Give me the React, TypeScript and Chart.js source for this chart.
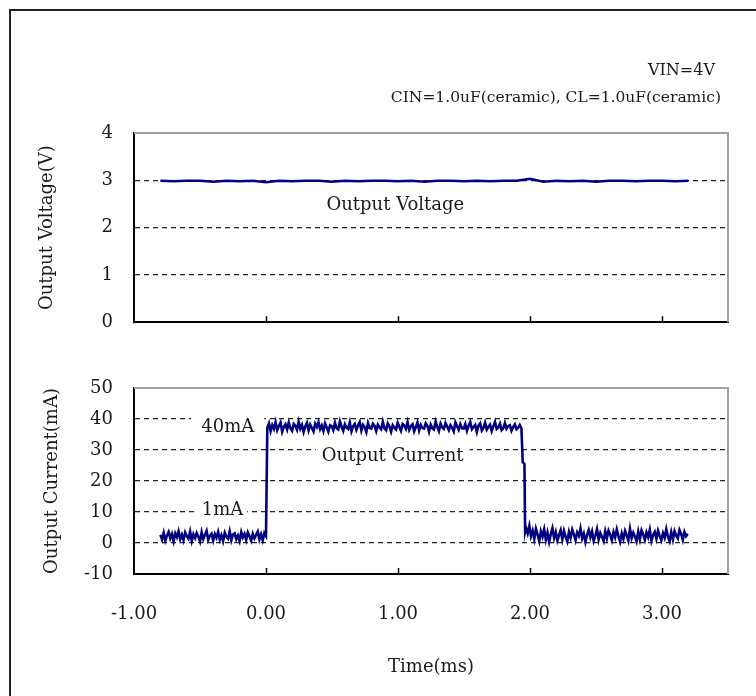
import React, { useEffect, useRef } from "react";
import { Chart, registerables } from "chart.js";
Chart.register(...registerables);

// ---------- data ----------
const X_MIN = -1;
const X_MAX = 3.5;
const X_TICK_STEP = 1;
const V_MIN = 0;
const V_MAX = 4;
const I_MIN = -10;
const I_MAX = 50;

const VOLT_T0 = -0.8;
const VOLT_STEP = 0.1;
const VOLT = [
  2.99, 2.98, 2.99, 2.99, 2.97, 2.99, 2.98, 2.99, 2.96, 2.99,
  2.98, 2.99, 2.99, 2.97, 2.99, 2.98, 2.99, 2.99, 2.98, 2.99,
  2.97, 2.99, 2.99, 2.98, 2.99, 2.98, 2.99, 2.99, 3.03, 2.97,
  2.99, 2.98, 2.99, 2.97, 2.99, 2.99, 2.98, 2.99, 2.99, 2.98,
  2.99,
];

const CUR_STEP = 0.0125;
const CUR_LOW1_T0 = -0.8;
const CUR_LOW1 = [
  2.6, 1.1, 3.3, 0.8, 2.4, 3.6, 1.5, 2.9, 0.6, 3.1,
  1.9, 3.8, 1.2, 2.7, 0.9, 3.4, 2.2, 1.4, 3.7, 0.7,
  2.8, 1.6, 3.2, 2.0, 0.5, 3.5, 1.3, 2.6, 3.9, 1.0,
  2.3, 3.0, 0.8, 2.9, 1.7, 3.6, 1.1, 2.5, 0.6, 3.3,
  2.0, 1.4, 3.8, 0.9, 2.7, 3.1, 1.2, 2.4, 0.7, 3.5,
  1.8, 2.9, 1.0, 3.4, 2.2, 0.8, 3.0, 1.5, 2.6, 3.7,
  1.1, 2.8, 0.9, 3.2, 2.3,
];
const CUR_HIGH_T0 = 0.01;
const CUR_HIGH = [
  37.2, 38.6, 36.1, 38.0, 36.8, 39.0, 36.4, 37.7, 38.8, 35.9,
  37.5, 38.3, 36.6, 38.9, 37.0, 36.2, 38.4, 37.8, 36.5, 39.1,
  36.9, 38.1, 35.8, 37.6, 38.7, 36.3, 38.2, 37.1, 36.0, 38.5,
  37.4, 39.0, 36.7, 37.9, 36.1, 38.6, 37.3, 35.9, 38.0, 37.7,
  36.4, 38.8, 37.0, 36.6, 39.2, 37.5, 36.2, 38.3, 37.2, 36.8,
  38.9, 36.0, 37.6, 38.4, 36.5, 37.9, 39.0, 36.3, 38.1, 37.4,
  35.8, 38.7, 37.1, 36.9, 38.5, 37.8, 36.1, 38.2, 37.3, 36.7,
  39.1, 37.0, 36.4, 38.6, 37.6, 35.9, 38.0, 37.2, 36.6, 38.8,
  37.5, 36.2, 38.4, 37.9, 36.8, 39.0, 36.5, 37.7, 38.3, 36.0,
  37.4, 38.9, 36.3, 38.1, 37.1, 36.9, 38.6, 37.8, 35.9, 38.2,
  37.0, 36.6, 39.2, 37.5, 36.1, 38.5, 37.3, 36.8, 38.7, 37.6,
  36.4, 38.0, 37.2, 36.0, 38.9, 37.7, 36.5, 38.3, 37.0, 36.9,
  38.4, 36.2, 37.8, 39.0, 36.7, 37.4, 38.1, 35.8, 37.9, 38.6,
  36.3, 37.1, 38.8, 36.6, 37.5, 38.2, 36.1, 37.6, 39.1, 36.8,
  37.3, 38.5, 36.4, 37.0, 38.7, 36.9, 37.7, 38.0, 36.2, 37.4,
  38.3, 36.7, 37.2, 38.1, 37.0,
];
const CUR_FALL_T = [1.945, 1.952, 1.958, 1.963];
const CUR_FALL = [26.0, 25.8, 25.5, 3.6];
const CUR_LOW2_T0 = 1.97;
const CUR_LOW2 = [
  4.9, 3.1, 5.5, 2.2, 4.0, 1.3, 4.6, 2.7, 0.6, 3.8,
  2.1, 4.4, 1.0, 3.3, 0.4, 2.9, 4.8, 1.6, 3.5, 0.8,
  2.5, 4.1, 1.2, 3.9, 2.0, 0.5, 3.6, 1.7, 4.3, 2.8,
  0.9, 3.4, 2.3, 4.7, 1.4, 3.0, 0.3, 2.6, 4.2, 1.9,
  3.7, 0.7, 2.4, 4.5, 1.1, 3.2, 2.0, 0.6, 3.8, 1.5,
  4.0, 2.7, 0.9, 3.5, 1.8, 4.4, 2.2, 0.4, 3.1, 1.3,
  3.9, 2.5, 0.8, 4.6, 1.6, 3.3, 2.1, 0.5, 3.7, 1.2,
  4.1, 2.8, 1.0, 3.4, 1.9, 4.3, 0.7, 2.6, 3.6, 1.4,
  4.0, 2.3, 0.9, 3.2, 1.7, 4.5, 2.0, 0.6, 3.5, 1.1,
  3.8, 2.4, 1.5, 4.2, 2.9, 1.0, 3.6, 2.2, 3.0,
];

const NOTE_VIN = "VIN=4V";
const NOTE_CAP = "CIN=1.0uF(ceramic), CL=1.0uF(ceramic)";
const LABEL_VOLT = "Output Voltage";
const LABEL_CUR = "Output Current";
const LABEL_HIGH = "40mA";
const LABEL_LOW = "1mA";
const TITLE_V = "Output Voltage(V)";
const TITLE_I = "Output Current(mA)";
const TITLE_X = "Time(ms)";

// ---------- helpers ----------
const series = (t0: number, step: number, vals: number[]) =>
  vals.map((y, i) => ({ x: +(t0 + i * step).toFixed(4), y }));

const voltPts = series(VOLT_T0, VOLT_STEP, VOLT);
const curPts = [
  ...series(CUR_LOW1_T0, CUR_STEP, CUR_LOW1),
  ...series(CUR_HIGH_T0, CUR_STEP, CUR_HIGH),
  ...CUR_FALL_T.map((x, i) => ({ x, y: CUR_FALL[i] })),
  ...series(CUR_LOW2_T0, CUR_STEP, CUR_LOW2),
];

const FAMILY = '"DejaVu Serif", "Liberation Serif", serif';
const NAVY = "#000080";
const TEXT = "#1a1a1a";

function gridColor(min: number, max: number) {
  return (c: any) => {
    if (!c.tick) return "#222";
    const v = c.tick.value;
    return v === min || v === max ? "rgba(0,0,0,0)" : "#222";
  };
}

function frameAndTicks(chart: any) {
  const { ctx, chartArea: a } = chart;
  const xs = chart.scales.x;
  ctx.save();
  ctx.strokeStyle = "#000";
  ctx.lineWidth = 1.5;
  xs.ticks.forEach((t: any) => {
    if (t.value === X_MIN) return;
    const px = Math.round(xs.getPixelForValue(t.value)) + 0.5;
    ctx.beginPath();
    ctx.moveTo(px, a.bottom);
    ctx.lineTo(px, a.bottom - 6);
    ctx.stroke();
  });
  ctx.strokeStyle = "#a0a0a0";
  ctx.lineWidth = 2;
  ctx.beginPath();
  ctx.moveTo(a.left, a.top);
  ctx.lineTo(a.right, a.top);
  ctx.lineTo(a.right, a.bottom);
  ctx.stroke();
  ctx.restore();
}

function label(
  ctx: CanvasRenderingContext2D,
  text: string,
  x: number,
  y: number,
  size: number,
  align: CanvasTextAlign,
  bg?: { padX: number; padY: number }
) {
  ctx.save();
  ctx.font = `${size}px ${FAMILY}`;
  ctx.textAlign = align;
  ctx.textBaseline = "middle";
  if (bg) {
    const w = ctx.measureText(text).width;
    const left = align === "center" ? x - w / 2 : align === "right" ? x - w : x;
    ctx.fillStyle = "#fff";
    ctx.fillRect(left - bg.padX, y - size / 2 - bg.padY, w + bg.padX * 2, size + bg.padY * 2);
  }
  ctx.fillStyle = TEXT;
  ctx.fillText(text, x, y);
  ctx.restore();
}

const topPlugin = {
  id: "topDecor",
  afterDraw(chart: any) {
    frameAndTicks(chart);
    const { ctx, chartArea: a, scales } = chart;
    label(ctx, NOTE_VIN, a.right - 13, a.top - 62, 16, "right");
    label(ctx, NOTE_CAP, a.right - 7, a.top - 35, 15.5, "right");
    label(ctx, LABEL_VOLT, scales.x.getPixelForValue(0.98), scales.y.getPixelForValue(2.48), 18, "center");
  },
};

const bottomPlugin = {
  id: "bottomDecor",
  afterDraw(chart: any) {
    frameAndTicks(chart);
    const { ctx, scales } = chart;
    const X = scales.x, Y = scales.y;
    label(ctx, LABEL_HIGH, X.getPixelForValue(-0.29), Y.getPixelForValue(37.4), 18, "center", { padX: 10, padY: 2 });
    label(ctx, LABEL_CUR, X.getPixelForValue(0.96), Y.getPixelForValue(28.1), 18, "center", { padX: 6, padY: 0 });
    label(ctx, LABEL_LOW, X.getPixelForValue(-0.33), Y.getPixelForValue(10.6), 18, "center", { padX: 4, padY: 0 });
  },
};

function makeConfig(opts: {
  data: { x: number; y: number }[];
  yMin: number;
  yMax: number;
  yStep: number;
  yTitle: string;
  yTitlePad: number;
  padTop: number;
  xHeight: number;
  showX: boolean;
  lineWidth: number;
  plugin: any;
}): any {
  return {
    type: "line",
    data: {
      datasets: [
        {
          data: opts.data,
          borderColor: NAVY,
          backgroundColor: NAVY,
          borderWidth: opts.lineWidth,
          pointRadius: 0,
          tension: 0,
          fill: false,
        },
      ],
    },
    options: {
      animation: false,
      responsive: false,
      events: [],
      layout: { padding: { top: opts.padTop, right: 28, left: 0, bottom: 0 } },
      plugins: { legend: { display: false }, tooltip: { enabled: false } },
      scales: {
        x: {
          type: "linear",
          min: X_MIN,
          max: X_MAX,
          afterFit: (s: any) => {
            s.height = opts.xHeight;
          },
          ticks: {
            display: opts.showX,
            stepSize: X_TICK_STEP,
            includeBounds: false,
            autoSkip: false,
            maxRotation: 0,
            padding: 30,
            font: { family: FAMILY, size: 18 },
            color: TEXT,
            callback: (v: any) => Number(v).toFixed(2),
          },
          grid: { display: false, drawTicks: false },
          border: { display: true, color: "#000", width: 2 },
          title: {
            display: opts.showX,
            text: TITLE_X,
            font: { family: FAMILY, size: 18 },
            color: TEXT,
            padding: { top: 0, bottom: 18 },
          },
        },
        y: {
          type: "linear",
          min: opts.yMin,
          max: opts.yMax,
          afterFit: (s: any) => {
            s.width = 123;
          },
          ticks: {
            stepSize: opts.yStep,
            padding: 21,
            font: { family: FAMILY, size: 18 },
            color: TEXT,
          },
          grid: {
            color: gridColor(opts.yMin, opts.yMax),
            lineWidth: 1.2,
            drawTicks: false,
          },
          border: { display: true, color: "#000", width: 2, dash: [5, 4] },
          title: {
            display: true,
            text: opts.yTitle,
            font: { family: FAMILY, size: 18 },
            color: TEXT,
            padding: { top: opts.yTitlePad, bottom: 0 },
          },
        },
      },
    },
    plugins: [opts.plugin],
  };
}

export default function App() {
  const topRef = useRef<HTMLCanvasElement>(null);
  const botRef = useRef<HTMLCanvasElement>(null);

  useEffect(() => {
    const c1 = new Chart(
      topRef.current as HTMLCanvasElement,
      makeConfig({
        data: voltPts,
        yMin: V_MIN,
        yMax: V_MAX,
        yStep: 1,
        yTitle: TITLE_V,
        yTitlePad: 26,
        padTop: 122,
        xHeight: 19,
        showX: false,
        lineWidth: 2.5,
        plugin: topPlugin,
      })
    );
    const c2 = new Chart(
      botRef.current as HTMLCanvasElement,
      makeConfig({
        data: curPts,
        yMin: I_MIN,
        yMax: I_MAX,
        yStep: 10,
        yTitle: TITLE_I,
        yTitlePad: 31,
        padTop: 47,
        xHeight: 122,
        showX: true,
        lineWidth: 2.6,
        plugin: bottomPlugin,
      })
    );
    return () => {
      c1.destroy();
      c2.destroy();
    };
  }, []);

  return (
    <div
      style={{
        position: "fixed",
        left: 9,
        top: 9,
        width: 747,
        height: 687,
        borderLeft: "2px solid #222",
        borderTop: "2px solid #222",
        boxSizing: "border-box",
        background: "#fff",
      }}
    >
      <canvas
        ref={topRef}
        width={745}
        height={343}
        style={{ position: "absolute", left: 0, top: 0, width: 745, height: 343 }}
      />
      <canvas
        ref={botRef}
        width={745}
        height={355}
        style={{ position: "absolute", left: 0, top: 330, width: 745, height: 355 }}
      />
    </div>
  );
}
